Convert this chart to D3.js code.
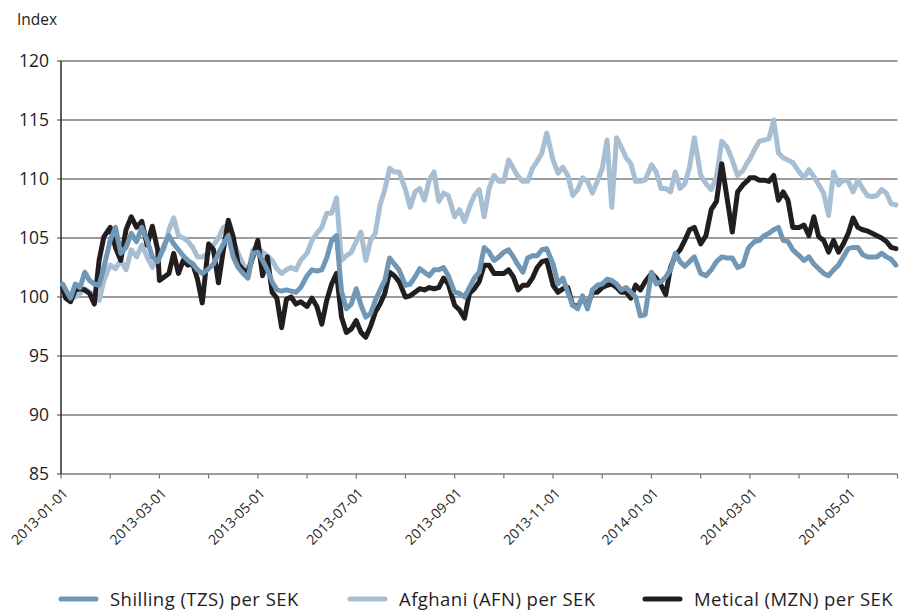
<!DOCTYPE html>
<html><head><meta charset="utf-8">
<script src="https://cdn.jsdelivr.net/npm/d3@7/dist/d3.min.js"></script>
<style>
body{margin:0;background:#fff;}
svg{display:block;font-family:"Open Sans",Lato,sans-serif;}
</style></head><body>
<svg id="chart" width="901" height="612"></svg>
<script>
const dates = [
"2013-01-02","2013-01-04","2013-01-07","2013-01-10","2013-01-13","2013-01-16","2013-01-19","2013-01-22","2013-01-25","2013-01-28",
"2013-02-01","2013-02-04","2013-02-07","2013-02-10","2013-02-13","2013-02-16","2013-02-19","2013-02-22","2013-02-25","2013-02-28",
"2013-03-01","2013-03-04","2013-03-07","2013-03-10","2013-03-13","2013-03-16","2013-03-19","2013-03-22","2013-03-25","2013-03-28",
"2013-04-01","2013-04-04","2013-04-07","2013-04-10","2013-04-13","2013-04-16","2013-04-19","2013-04-22","2013-04-25","2013-04-28",
"2013-05-01","2013-05-04","2013-05-07","2013-05-10","2013-05-13","2013-05-16","2013-05-19","2013-05-22","2013-05-25","2013-05-28",
"2013-06-01","2013-06-04","2013-06-07","2013-06-10","2013-06-13","2013-06-16","2013-06-19","2013-06-22","2013-06-25","2013-06-28",
"2013-07-01","2013-07-04","2013-07-07","2013-07-10","2013-07-13","2013-07-16","2013-07-19","2013-07-22","2013-07-25","2013-07-28",
"2013-08-01","2013-08-04","2013-08-07","2013-08-10","2013-08-13","2013-08-16","2013-08-19","2013-08-22","2013-08-25","2013-08-28",
"2013-09-01","2013-09-04","2013-09-07","2013-09-10","2013-09-13","2013-09-16","2013-09-19","2013-09-22","2013-09-25","2013-09-28",
"2013-10-01","2013-10-04","2013-10-07","2013-10-10","2013-10-13","2013-10-16","2013-10-19","2013-10-22","2013-10-25","2013-10-28",
"2013-11-01","2013-11-04","2013-11-07","2013-11-10","2013-11-13","2013-11-16","2013-11-19","2013-11-22","2013-11-25","2013-11-28",
"2013-12-01","2013-12-04","2013-12-07","2013-12-10","2013-12-13","2013-12-16","2013-12-19","2013-12-22","2013-12-25","2013-12-28",
"2014-01-01","2014-01-04","2014-01-07","2014-01-10","2014-01-13","2014-01-16","2014-01-19","2014-01-22","2014-01-25","2014-01-28",
"2014-02-01","2014-02-04","2014-02-07","2014-02-10","2014-02-13","2014-02-16","2014-02-19","2014-02-22","2014-02-25","2014-02-28",
"2014-03-01","2014-03-04","2014-03-07","2014-03-10","2014-03-13","2014-03-16","2014-03-19","2014-03-22","2014-03-25","2014-03-28",
"2014-04-01","2014-04-04","2014-04-07","2014-04-10","2014-04-13","2014-04-16","2014-04-19","2014-04-22","2014-04-25","2014-04-28",
"2014-05-01","2014-05-04","2014-05-07","2014-05-10","2014-05-13","2014-05-16","2014-05-19","2014-05-22","2014-05-25","2014-05-28","2014-05-31"
];
const shilling = [
101.1,100.6,99.9,101.1,100.8,102.1,101.4,101.1,101.0,102.5,
104.8,105.9,103.7,104.2,105.4,104.7,105.9,104.8,103.4,103.0,
103.3,104.4,105.2,104.5,104.0,103.5,103.1,102.8,102.3,102.0,
102.4,102.8,103.7,104.5,105.2,103.4,102.5,102.0,101.6,103.7,
103.8,103.1,102.3,101.3,100.6,100.5,100.6,100.5,100.4,100.8,
101.8,102.3,102.2,102.3,103.3,104.8,105.2,100.5,99.0,99.4,
100.7,99.3,98.3,98.6,99.7,100.6,101.4,103.3,102.8,102.3,
101.0,101.1,101.7,102.4,102.1,101.8,102.3,102.3,102.5,101.8,
100.4,100.3,100.0,100.8,101.6,102.1,104.2,103.8,103.1,103.4,
103.8,104.0,103.4,102.7,102.1,103.3,103.5,103.5,104.0,104.1,
102.8,101.1,101.6,100.4,99.3,99.0,100.1,99.0,100.6,101.0,
101.1,101.5,101.4,101.1,100.6,100.8,100.4,100.0,98.4,98.5,
102.1,101.1,101.3,101.7,102.3,103.7,103.0,102.6,103.0,103.4,
102.0,101.8,102.3,103.0,103.4,103.3,103.3,102.5,102.7,104.1,
104.3,104.7,104.8,105.2,105.4,105.7,105.9,104.8,104.7,104.0,
103.5,103.1,103.4,102.8,102.4,102.0,101.8,102.3,102.7,103.4,
104.1,104.2,104.2,103.6,103.4,103.4,103.4,103.7,103.4,103.2,102.7
];
const afghani = [
101.0,100.4,99.9,100.0,100.3,100.7,100.4,100.2,99.7,101.4,
102.7,102.4,103.1,102.3,104.0,103.4,104.4,103.4,102.5,103.3,
103.4,104.1,105.7,106.7,105.2,105.0,104.7,104.2,103.4,103.4,
103.7,104.4,105.0,105.9,106.1,104.8,103.7,102.8,102.1,104.0,
104.2,103.8,103.5,103.1,102.4,102.0,102.3,102.5,102.3,103.1,
103.7,104.8,105.4,105.9,107.1,107.1,108.4,103.1,103.5,103.8,
104.7,105.5,103.1,104.8,105.4,107.8,109.1,110.9,110.6,110.6,
109.1,107.6,108.9,109.2,108.2,109.9,110.6,108.1,108.8,108.6,
106.8,107.4,106.4,107.6,108.6,109.1,106.8,109.2,110.3,109.8,
109.8,111.6,110.9,110.2,109.8,109.8,110.9,111.5,112.2,113.9,
111.6,110.5,111.0,110.3,108.6,109.1,110.1,109.8,108.8,109.8,
110.9,113.3,107.6,113.5,112.7,111.8,111.3,109.8,109.8,109.9,
111.2,110.6,109.2,109.2,108.9,110.6,109.2,109.6,111.0,113.5,
110.3,109.6,109.1,110.2,113.2,112.7,111.6,110.3,110.7,111.5,
111.7,112.5,113.2,113.3,113.4,115.0,112.2,111.8,111.6,111.4,
110.6,110.1,110.8,110.2,109.5,108.8,106.9,110.6,109.5,109.9,
109.8,108.9,109.9,109.2,108.6,108.5,108.6,109.1,108.8,107.9,107.8
];
const metical = [
100.8,99.9,99.6,100.6,100.7,100.6,100.3,99.4,103.1,105.1,
105.9,104.2,103.1,105.7,106.8,105.9,106.4,104.4,106.0,104.0,
101.4,101.7,102.0,103.7,102.0,103.1,102.7,102.8,101.5,99.5,
104.5,104.0,101.2,104.0,106.5,105.1,102.8,102.3,102.1,103.4,
104.8,101.8,103.4,100.4,99.9,97.4,99.8,100.0,99.4,99.6,
99.2,99.9,99.2,97.7,99.7,101.1,102.0,98.3,97.0,97.3,
98.0,97.0,96.6,97.5,98.7,99.4,100.3,102.1,101.8,101.3,
100.0,100.1,100.4,100.7,100.6,100.8,100.7,100.8,101.6,101.1,
99.3,98.9,98.2,100.3,100.7,101.3,102.7,102.7,102.0,102.0,
102.0,102.3,101.7,100.6,101.0,101.0,101.6,102.5,103.0,103.1,
101.0,100.4,100.7,100.8,99.3,99.2,99.9,99.3,100.4,100.4,
100.8,101.0,101.1,100.8,100.4,100.4,99.9,101.0,100.6,101.3,
102.0,101.6,101.0,100.2,102.5,103.5,104.0,104.8,105.7,105.9,
104.5,105.2,107.4,108.1,111.3,108.4,105.5,108.9,109.5,109.9,
110.1,110.1,109.9,109.9,109.8,110.3,108.2,108.9,108.2,105.9,
105.9,106.1,105.2,106.8,105.1,104.8,103.8,104.8,103.8,104.5,
105.4,106.7,105.9,105.7,105.6,105.4,105.2,105.0,104.7,104.2,104.1
];
const yTicks = [85, 90, 95, 100, 105, 110, 115, 120];
const seriesNames = ["Shilling (TZS) per SEK", "Afghani (AFN) per SEK", "Metical (MZN) per SEK"];
const seriesColors = ["#7097b6", "#a8bed3", "#221e1f"];
const yTitle = "Index";

const parse = d3.utcParse("%Y-%m-%d");
const fmt = d3.utcFormat("%Y-%m-%d");
const svg = d3.select("#chart");
const mLeft = 61, mRight = 897.5, mTop = 61, mBottom = 474;

const monthStarts = d3.utcMonth.range(new Date(Date.UTC(2013, 0, 1)), new Date(Date.UTC(2014, 5, 2)));
const x = d3.scaleUtc()
  .domain(monthStarts)
  .range(monthStarts.map((d, i) => mLeft + i * (mRight - mLeft) / (monthStarts.length - 1)));
const y = d3.scaleLinear().domain([85, 120]).range([mBottom, mTop]);

// gridlines + y ticks
svg.append("g").selectAll("line").data(yTicks).join("line")
  .attr("x1", mLeft - 4).attr("x2", mRight)
  .attr("y1", d => y(d)).attr("y2", d => y(d))
  .attr("stroke", "#7d7d7d").attr("stroke-width", 1.5);
svg.append("g").selectAll("text").data(yTicks).join("text")
  .attr("x", 49).attr("y", d => y(d)).attr("dy", "0.36em")
  .attr("text-anchor", "end").attr("font-size", 17.5).attr("fill", "#1e1e1e")
  .text(d => d);

// left axis line
svg.append("line").attr("x1", mLeft).attr("x2", mLeft).attr("y1", mTop).attr("y2", mBottom)
  .attr("stroke", "#2a2a2a").attr("stroke-width", 1.5);

// x ticks
svg.append("g").selectAll("line").data(monthStarts).join("line")
  .attr("x1", d => x(d)).attr("x2", d => x(d))
  .attr("y1", mBottom).attr("y2", mBottom + 4.5)
  .attr("stroke", "#7d7d7d").attr("stroke-width", 1.3);
const labelTicks = monthStarts.filter(d => d.getUTCMonth() % 2 === 0 && d.getTime() < Date.UTC(2014, 5, 1));
svg.append("g").selectAll("text").data(labelTicks).join("text")
  .attr("transform", d => `translate(${x(d) + 8},${mBottom + 20}) rotate(-45)`)
  .attr("text-anchor", "end").attr("font-size", 14).attr("fill", "#1e1e1e")
  .text(d => fmt(d));

svg.append("text").attr("x", 17).attr("y", 25).attr("font-size", 15.5).attr("fill", "#1e1e1e").text(yTitle);

// lines
const seriesValues = [shilling, afghani, metical];
const line = d3.line().x(d => x(d[0])).y(d => y(d[1]));
const drawOrder = [1, 2, 0];
svg.append("g").selectAll("path").data(drawOrder).join("path")
  .attr("d", i => line(dates.map((d, j) => [parse(d), seriesValues[i][j]])))
  .attr("fill", "none").attr("stroke", i => seriesColors[i])
  .attr("stroke-width", 5).attr("stroke-linejoin", "round").attr("stroke-linecap", "round");

// legend
const legendX = [59, 348, 643];
const lg = svg.append("g").selectAll("g").data(seriesNames).join("g")
  .attr("transform", (d, i) => `translate(${legendX[i]},599)`);
lg.append("line").attr("x1", 2).attr("x2", 37).attr("y1", 0).attr("y2", 0)
  .attr("stroke", (d, i) => seriesColors[i]).attr("stroke-width", 5).attr("stroke-linecap", "round");
lg.append("text").attr("x", 51).attr("y", 0).attr("dy", "0.36em")
  .attr("font-size", 18.5).attr("letter-spacing", 0.45).attr("fill", "#1e1e1e").text(d => d);
</script>
</body></html>
